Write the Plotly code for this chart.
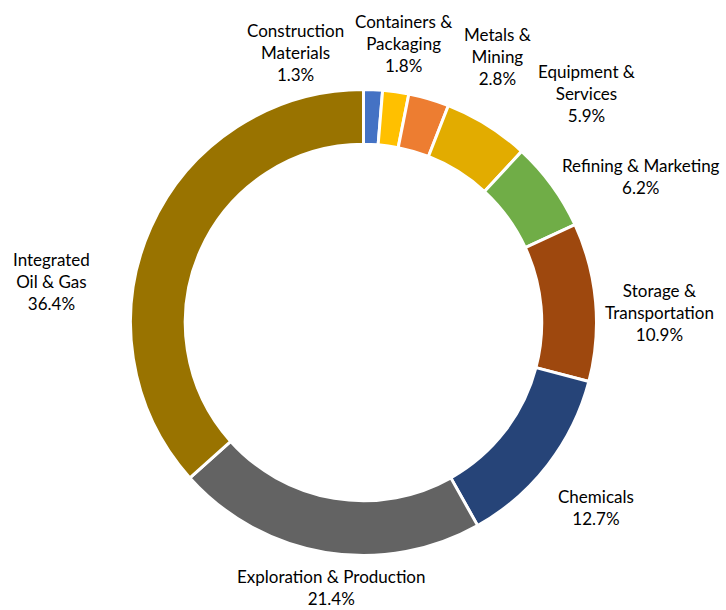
import plotly.graph_objects as go

W, H = 726, 610

categories = ["Construction Materials", "Containers & Packaging", "Metals & Mining",
              "Equipment & Services", "Refining & Marketing", "Storage & Transportation",
              "Chemicals", "Exploration & Production", "Integrated Oil & Gas"]
shares = [1.3, 1.8, 2.8, 5.9, 6.2, 10.9, 12.7, 21.4, 36.4]
label_text = ["Construction<br>Materials", "Containers &<br>Packaging", "Metals &<br>Mining",
              "Equipment &<br>Services", "Refining & Marketing", "Storage &<br>Transportation",
              "Chemicals", "Exploration & Production", "Integrated<br>Oil & Gas"]
colors = ["#4472C4", "#FFC000", "#ED7D31", "#E2AC00", "#70AD47", "#9E480E",
          "#264478", "#636363", "#997300"]

# label centre positions in pixels (layout only)
label_pos = [(295, 52), (403, 43), (497, 57), (586, 94), (641, 177), (659, 312),
             (596, 507), (331, 587), (51, 281)]

cx, cy, r = 363.5, 322.5, 233
fig = go.Figure(go.Pie(
    labels=categories, values=shares, hole=0.765, sort=False, direction="clockwise",
    rotation=0, marker=dict(colors=colors, line=dict(color="white", width=3)),
    textinfo="none", hoverinfo="label+value", showlegend=False,
    domain=dict(x=[(cx - r) / W, (cx + r) / W], y=[1 - (cy + r) / H, 1 - (cy - r) / H]),
))

for txt, v, (px, py) in zip(label_text, shares, label_pos):
    fig.add_annotation(x=px / W, y=1 - py / H, xref="paper", yref="paper",
                       text=f"{txt}<br>{v:.1f}%", showarrow=False, borderpad=0,
                       xanchor="center", yanchor="middle", align="center",
                       font=dict(family="Lato", size=17, color="#000000"))

fig.update_layout(width=W, height=H, margin=dict(l=0, r=0, t=0, b=0),
                  paper_bgcolor="white", plot_bgcolor="white")
fig.write_html("out.html", config={"displayModeBar": False},
               post_script="document.body.style.margin='0';document.body.style.overflow='hidden';")
